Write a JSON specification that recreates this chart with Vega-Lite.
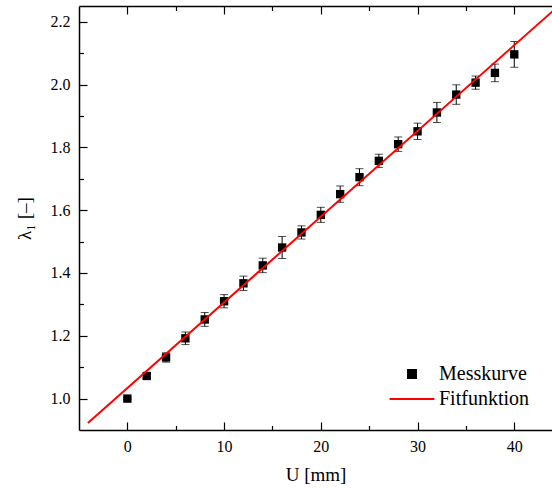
{
  "$schema": "https://vega.github.io/schema/vega-lite/v6.json",
  "width": 473,
  "height": 424,
  "autosize": {"type": "none"},
  "padding": {"left": 79, "top": 6, "right": 0, "bottom": 58},
  "config": {
    "view": {"stroke": null},
    "font": "Liberation Serif",
    "axis": {
      "grid": false,
      "labelFont": "Liberation Serif",
      "labelFontSize": 16,
      "labelColor": "black",
      "titleFont": "Liberation Serif",
      "titleFontSize": 19,
      "titleFontWeight": "normal",
      "titleColor": "black",
      "domainColor": "black",
      "domainWidth": 1.5,
      "tickColor": "black",
      "tickWidth": 1.2
    },
    "legend": {
      "labelFont": "Liberation Serif",
      "labelFontSize": 20,
      "labelColor": "black"
    }
  },
  "datasets": {
    "meas": [
      {"u": 0, "lam": 1.000, "lo": 0.997, "hi": 1.003, "series": "Messkurve"},
      {"u": 2, "lam": 1.072, "lo": 1.064, "hi": 1.080, "series": "Messkurve"},
      {"u": 4, "lam": 1.131, "lo": 1.116, "hi": 1.146, "series": "Messkurve"},
      {"u": 6, "lam": 1.192, "lo": 1.172, "hi": 1.212, "series": "Messkurve"},
      {"u": 8, "lam": 1.252, "lo": 1.230, "hi": 1.274, "series": "Messkurve"},
      {"u": 10, "lam": 1.310, "lo": 1.289, "hi": 1.331, "series": "Messkurve"},
      {"u": 12, "lam": 1.367, "lo": 1.344, "hi": 1.390, "series": "Messkurve"},
      {"u": 14, "lam": 1.424, "lo": 1.401, "hi": 1.447, "series": "Messkurve"},
      {"u": 16, "lam": 1.481, "lo": 1.446, "hi": 1.516, "series": "Messkurve"},
      {"u": 18, "lam": 1.529, "lo": 1.508, "hi": 1.550, "series": "Messkurve"},
      {"u": 20, "lam": 1.585, "lo": 1.561, "hi": 1.609, "series": "Messkurve"},
      {"u": 22, "lam": 1.651, "lo": 1.625, "hi": 1.677, "series": "Messkurve"},
      {"u": 24, "lam": 1.705, "lo": 1.678, "hi": 1.732, "series": "Messkurve"},
      {"u": 26, "lam": 1.757, "lo": 1.736, "hi": 1.778, "series": "Messkurve"},
      {"u": 28, "lam": 1.810, "lo": 1.787, "hi": 1.833, "series": "Messkurve"},
      {"u": 30, "lam": 1.851, "lo": 1.825, "hi": 1.877, "series": "Messkurve"},
      {"u": 32, "lam": 1.911, "lo": 1.879, "hi": 1.943, "series": "Messkurve"},
      {"u": 34, "lam": 1.968, "lo": 1.937, "hi": 1.999, "series": "Messkurve"},
      {"u": 36, "lam": 2.006, "lo": 1.985, "hi": 2.027, "series": "Messkurve"},
      {"u": 38, "lam": 2.037, "lo": 2.009, "hi": 2.065, "series": "Messkurve"},
      {"u": 40, "lam": 2.096, "lo": 2.055, "hi": 2.137, "series": "Messkurve"}
    ],
    "fit": [
      {"u": -4.08, "lam": 0.922, "series": "Fitfunktion"},
      {"u": 44.5, "lam": 2.248, "series": "Fitfunktion"}
    ]
  },
  "layer": [
    {
      "data": {"name": "meas"},
      "mark": {"type": "rule", "color": "black", "strokeWidth": 1},
      "encoding": {
        "x": {
          "field": "u", "type": "quantitative",
          "scale": {"domain": [-5, 43.9], "nice": false, "zero": false},
          "axis": {
            "orient": "bottom",
            "title": "U [mm]",
            "values": [0, 10, 20, 30, 40],
            "tickSize": -8,
            "labelPadding": 16,
            "titlePadding": 11
          }
        },
        "y": {
          "field": "lo", "type": "quantitative",
          "scale": {"domain": [0.9, 2.25], "nice": false, "zero": false},
          "axis": {
            "orient": "left",
            "title": "λ₁ [–]",
            "values": [1.0, 1.2, 1.4, 1.6, 1.8, 2.0, 2.2],
            "format": ".1f",
            "tickSize": -8,
            "labelPadding": 17,
            "titlePadding": 16
          }
        },
        "y2": {"field": "hi"}
      }
    },
    {
      "data": {"name": "meas"},
      "mark": {"type": "tick", "orient": "horizontal", "size": 8, "thickness": 1, "color": "black"},
      "encoding": {
        "x": {
          "field": "u", "type": "quantitative",
          "axis": {
            "orient": "bottom", "title": null, "labels": false, "domain": false,
            "values": [5, 15, 25, 35], "tickSize": -4.5
          }
        },
        "y": {
          "field": "lo", "type": "quantitative",
          "axis": {
            "orient": "left", "title": null, "labels": false, "domain": false,
            "values": [1.1, 1.3, 1.5, 1.7, 1.9, 2.1], "tickSize": -4.5
          }
        }
      }
    },
    {
      "data": {"name": "meas"},
      "mark": {"type": "tick", "orient": "horizontal", "size": 8, "thickness": 1, "color": "black"},
      "encoding": {
        "x": {
          "field": "u", "type": "quantitative",
          "axis": {
            "orient": "top", "title": null, "labels": false,
            "values": [0, 10, 20, 30, 40], "tickSize": -8
          }
        },
        "y": {"field": "hi", "type": "quantitative", "axis": null}
      }
    },
    {
      "data": {"name": "meas"},
      "mark": {"type": "point", "filled": true, "size": 70, "opacity": 1},
      "encoding": {
        "x": {
          "field": "u", "type": "quantitative",
          "axis": {
            "orient": "top", "title": null, "labels": false, "domain": false,
            "values": [5, 15, 25, 35], "tickSize": -4.5
          }
        },
        "y": {"field": "lam", "type": "quantitative", "axis": null},
        "color": {
          "field": "series", "type": "nominal",
          "scale": {"domain": ["Messkurve", "Fitfunktion"], "range": ["black", "red"]},
          "legend": {
            "title": null,
            "orient": "none",
            "legendX": 323,
            "legendY": 358,
            "symbolSize": 64,
            "symbolStrokeWidth": 2,
            "labelOffset": 17,
            "rowPadding": 5,
            "padding": 0
          }
        },
        "shape": {
          "field": "series", "type": "nominal",
          "scale": {"domain": ["Messkurve", "Fitfunktion"], "range": ["square", "M-5.6,0H5.6"]},
          "legend": {
            "title": null,
            "orient": "none",
            "legendX": 323,
            "legendY": 358,
            "symbolSize": 64,
            "symbolStrokeWidth": 2,
            "labelOffset": 17,
            "rowPadding": 5,
            "padding": 0
          }
        }
      }
    },
    {
      "data": {"name": "fit"},
      "mark": {"type": "line", "strokeWidth": 2, "clip": true},
      "encoding": {
        "x": {"field": "u", "type": "quantitative", "axis": null},
        "y": {"field": "lam", "type": "quantitative", "axis": null},
        "color": {
          "field": "series", "type": "nominal",
          "scale": {"domain": ["Messkurve", "Fitfunktion"], "range": ["black", "red"]},
          "legend": {
            "title": null,
            "orient": "none",
            "legendX": 323,
            "legendY": 358,
            "symbolSize": 64,
            "symbolStrokeWidth": 2,
            "labelOffset": 17,
            "rowPadding": 5,
            "padding": 0
          }
        }
      }
    }
  ],
  "resolve": {"axis": {"x": "independent", "y": "independent"}}
}
